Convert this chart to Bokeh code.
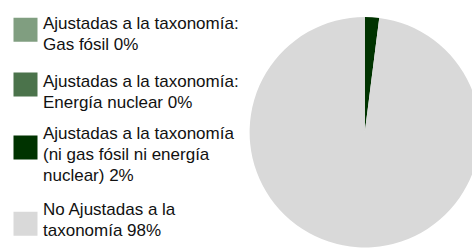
import math
from bokeh.plotting import figure
from bokeh.models import ColumnDataSource, Range1d
from bokeh.core.properties import value
from bokeh.embed import file_html
from bokeh.resources import INLINE

# ---- data ----
labels = [
    "Ajustadas a la taxonomía:\nGas fósil 0%",
    "Ajustadas a la taxonomía:\nEnergía nuclear 0%",
    "Ajustadas a la taxonomía\n(ni gas fósil ni energía\nnuclear) 2%",
    "No Ajustadas a la\ntaxonomía 98%",
]
shares = [0, 0, 2, 98]
colors = ["#809e80", "#4b734b", "#003300", "#d9d9d9"]

# ---- layout (screen px of the picture) ----
W, H = 472, 249
def fy(screen_y):
    return H - screen_y

first_baselines = [28.3, 86.0, 138.0, 214.5]
baseline_fix = -5.5   # renderer draws the alphabetic baseline a bit lower
square_centers = [29.3, 84.0, 147.0, 223.3]
line_step = 21.2
sq_size = 24
sq_x = 25
text_x = 42.5

pie_cx, pie_cy, pie_r = 364.3, fy(131.7), 115.2

p = figure(width=W, height=H, output_backend="svg", toolbar_location=None,
           x_range=Range1d(0, W), y_range=Range1d(0, H), min_border=0)
p.axis.visible = False
p.grid.visible = False
p.outline_line_color = None
p.background_fill_color = "white"
p.border_fill_color = "white"

# pie
total = float(sum(shares))
starts, ends = [], []
cum = 0.0
for s in shares:
    a0 = math.pi / 2 - 2 * math.pi * cum / total
    cum += s
    a1 = math.pi / 2 - 2 * math.pi * cum / total
    starts.append(a0)
    ends.append(a1)
keep = [i for i, s in enumerate(shares) if s > 0]
pie_src = ColumnDataSource(dict(
    start=[starts[i] for i in keep], end=[ends[i] for i in keep],
    color=[colors[i] for i in keep]))
p.wedge(x=pie_cx, y=pie_cy, radius=pie_r, start_angle="start", end_angle="end",
        direction="clock", fill_color="color", line_color=None, source=pie_src)

# legend squares
sq_src = ColumnDataSource(dict(x=[sq_x] * len(labels),
                               y=[fy(c) for c in square_centers],
                               color=colors))
p.rect(x="x", y="y", width=sq_size, height=sq_size, fill_color="color",
       line_color=None, source=sq_src)

# legend texts
tx, ty, tt = [], [], []
for lab, b in zip(labels, first_baselines):
    for k, line in enumerate(lab.split("\n")):
        tx.append(text_x)
        ty.append(fy(b + baseline_fix + k * line_step))
        tt.append(line)
p.text(x=tx, y=ty, text=tt, text_font=value("Liberation Sans"),
       text_font_size="17px", text_color="#111111", text_baseline="alphabetic",
       text_align="left")

open("out.html", "w").write(file_html(p, INLINE))
